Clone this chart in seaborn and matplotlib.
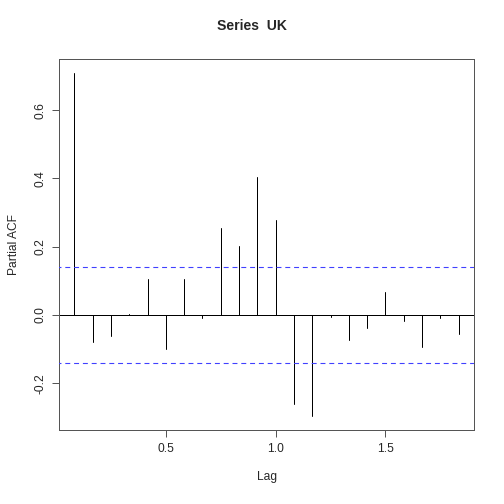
import numpy as np
import pandas as pd
import matplotlib
matplotlib.use("Agg")
import matplotlib.pyplot as plt
import seaborn as sns

# Data (PACF of series UK, monthly lags)
lags = [1/12, 2/12, 3/12, 4/12, 5/12, 6/12, 7/12, 8/12, 9/12, 10/12, 11/12, 12/12,
        13/12, 14/12, 15/12, 16/12, 17/12, 18/12, 19/12, 20/12, 21/12, 22/12]
pacf = [0.710, -0.080, -0.062, 0.004, 0.105, -0.099, 0.105, -0.008, 0.254, 0.203, 0.405, 0.279,
        -0.261, -0.297, -0.006, -0.073, -0.037, 0.066, -0.018, -0.095, -0.010, -0.056]
ci = 0.142
title = "Series  UK"
xlabel = "Lag"
ylabel = "Partial ACF"
xticks = [0.5, 1.0, 1.5]
yticks = [-0.2, 0.0, 0.2, 0.4, 0.6]

sns.set_style("ticks")
plt.rcParams['font.family'] = ['Liberation Sans', 'DejaVu Sans']

fig = plt.figure(figsize=(7, 7), dpi=72)
ax = fig.add_axes([59/504, 74/504, 415/504, 371/504])

# long-form table: each lag gives a vertical segment from 0 to its value
rows = []
for i, (l, v) in enumerate(zip(lags, pacf)):
    rows.append({"lag": l, "val": 0.0, "id": i})
    rows.append({"lag": l, "val": v, "id": i})
df = pd.DataFrame(rows)
sns.lineplot(data=df, x="lag", y="val", units="id", estimator=None,
             color="black", linewidth=1.0, ax=ax, sort=False)

ax.axhline(0, color="black", linewidth=1.0)
ci_df = pd.DataFrame({"x": [0.0, 2.0, 0.0, 2.0], "y": [ci, ci, -ci, -ci], "g": [0, 0, 1, 1]})
for g, sub in ci_df.groupby("g"):
    ax.plot(sub["x"], sub["y"], color="#4040ff", linewidth=1.1,
            linestyle=(0, (4.5, 3.5)), zorder=3)

span = lags[-1] - lags[0]
ax.set_xlim(lags[0] - 0.04 * span, lags[-1] + 0.04 * span)
lo = min(min(pacf), -ci)
hi = max(max(pacf), ci)
ax.set_ylim(lo - 0.04 * (hi - lo), hi + 0.04 * (hi - lo))

ax.set_xticks(xticks)
ax.set_xticklabels([f"{t:.1f}" for t in xticks])
ax.set_yticks(yticks)
ax.set_yticklabels([f"{t:.1f}" for t in yticks], rotation=90, va="center")
ax.tick_params(axis="both", direction="out", length=7, width=1, labelsize=12,
               color="#555555", pad=6)
for s in ax.spines.values():
    s.set_visible(True)
    s.set_color("#555555")
    s.set_linewidth(1)

ax.set_xlabel(xlabel, fontsize=12, labelpad=16)
ax.set_ylabel(ylabel, fontsize=12, labelpad=14)
fig.text(0.5, 1 - 26/504, title, ha="center", va="center", fontsize=14, fontweight="bold")

fig.savefig("out.png", dpi=72)
